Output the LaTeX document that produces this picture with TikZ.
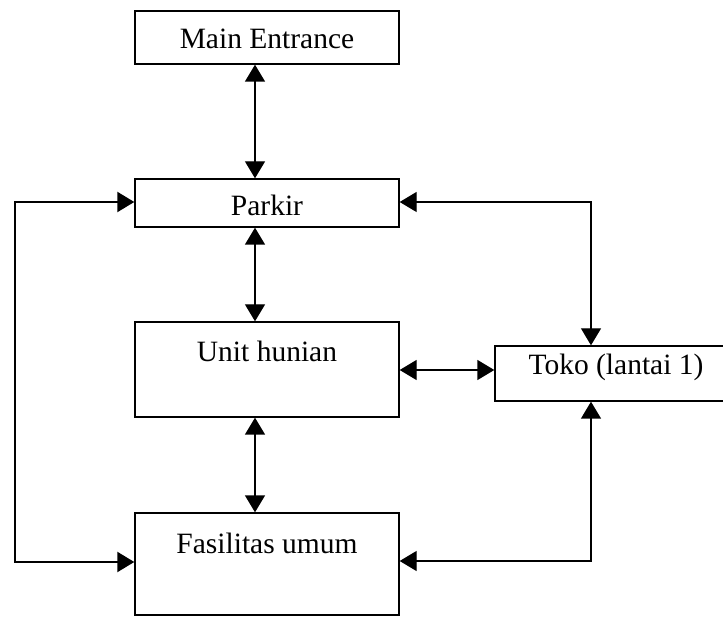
\documentclass[tikz,border=0pt]{standalone}
\usepackage{fontspec}
\setmainfont{Liberation Serif}
\usetikzlibrary{arrows.meta}
\begin{document}
\begin{tikzpicture}[x=1pt,y=-1pt,
  box/.style={draw,line width=1.4pt,rectangle,inner sep=0pt},
  lbl/.style={font=\fontsize{29.5}{31}\selectfont,inner sep=0pt},
  link/.style={line width=1.4pt,{Triangle[length=17pt,width=20pt]}-{Triangle[length=17pt,width=20pt]}},
  loop/.style={line width=2.2pt,{Triangle[length=17pt,width=20pt]}-{Triangle[length=17pt,width=20pt]}}]
\useasboundingbox (0,0) rectangle (723,617);
\begin{scope}
\clip (0,0) rectangle (723,617);
% boxes
\node[box,minimum width=264pt,minimum height=53pt] (main) at (267,37.5) {};
\node[box,minimum width=264pt,minimum height=48pt] (parkir) at (267,203) {};
\node[box,minimum width=264pt,minimum height=95pt] (unit) at (267,369.5) {};
\node[box,minimum width=240pt,minimum height=55pt] (toko) at (615,373.5) {};
\node[box,minimum width=264pt,minimum height=102pt] (fas) at (267,564) {};
\end{scope}
% labels
\node[lbl] (mainT) at (267,39) {Main Entrance};
\node[lbl] (parkirT) at (267,205) {Parkir};
\node[lbl] (unitT) at (267,351) {Unit hunian};
\node[lbl] (tokoT) at (616,367) {Toko (lantai 1)};
\node[lbl] (fasT) at (267,543) {Fasilitas umum};
% corner points of the routed links
\coordinate (tl) at (15,202);
\coordinate (bl) at (15,562);
\coordinate (tr) at (591,202);
\coordinate (br) at (591,561);
% straight links
\draw[link] (main.south -| 255,0) -- (parkir.north -| 255,0);
\draw[link] (parkir.south -| 255,0) -- (unit.north -| 255,0);
\draw[link] (unit.south -| 255,0) -- (fas.north -| 255,0);
\draw[link] (unit.east |- 0,370) -- (toko.west |- 0,370);
% routed links
\draw[loop] (parkir.west |- tl) -- (tl) -- (bl) -- (fas.west |- bl);
\draw[link] (parkir.east |- tr) -- (tr) -- (toko.north -| tr);
\draw[link] (fas.east |- br) -- (br) -- (toko.south -| br);
\end{tikzpicture}
\end{document}
